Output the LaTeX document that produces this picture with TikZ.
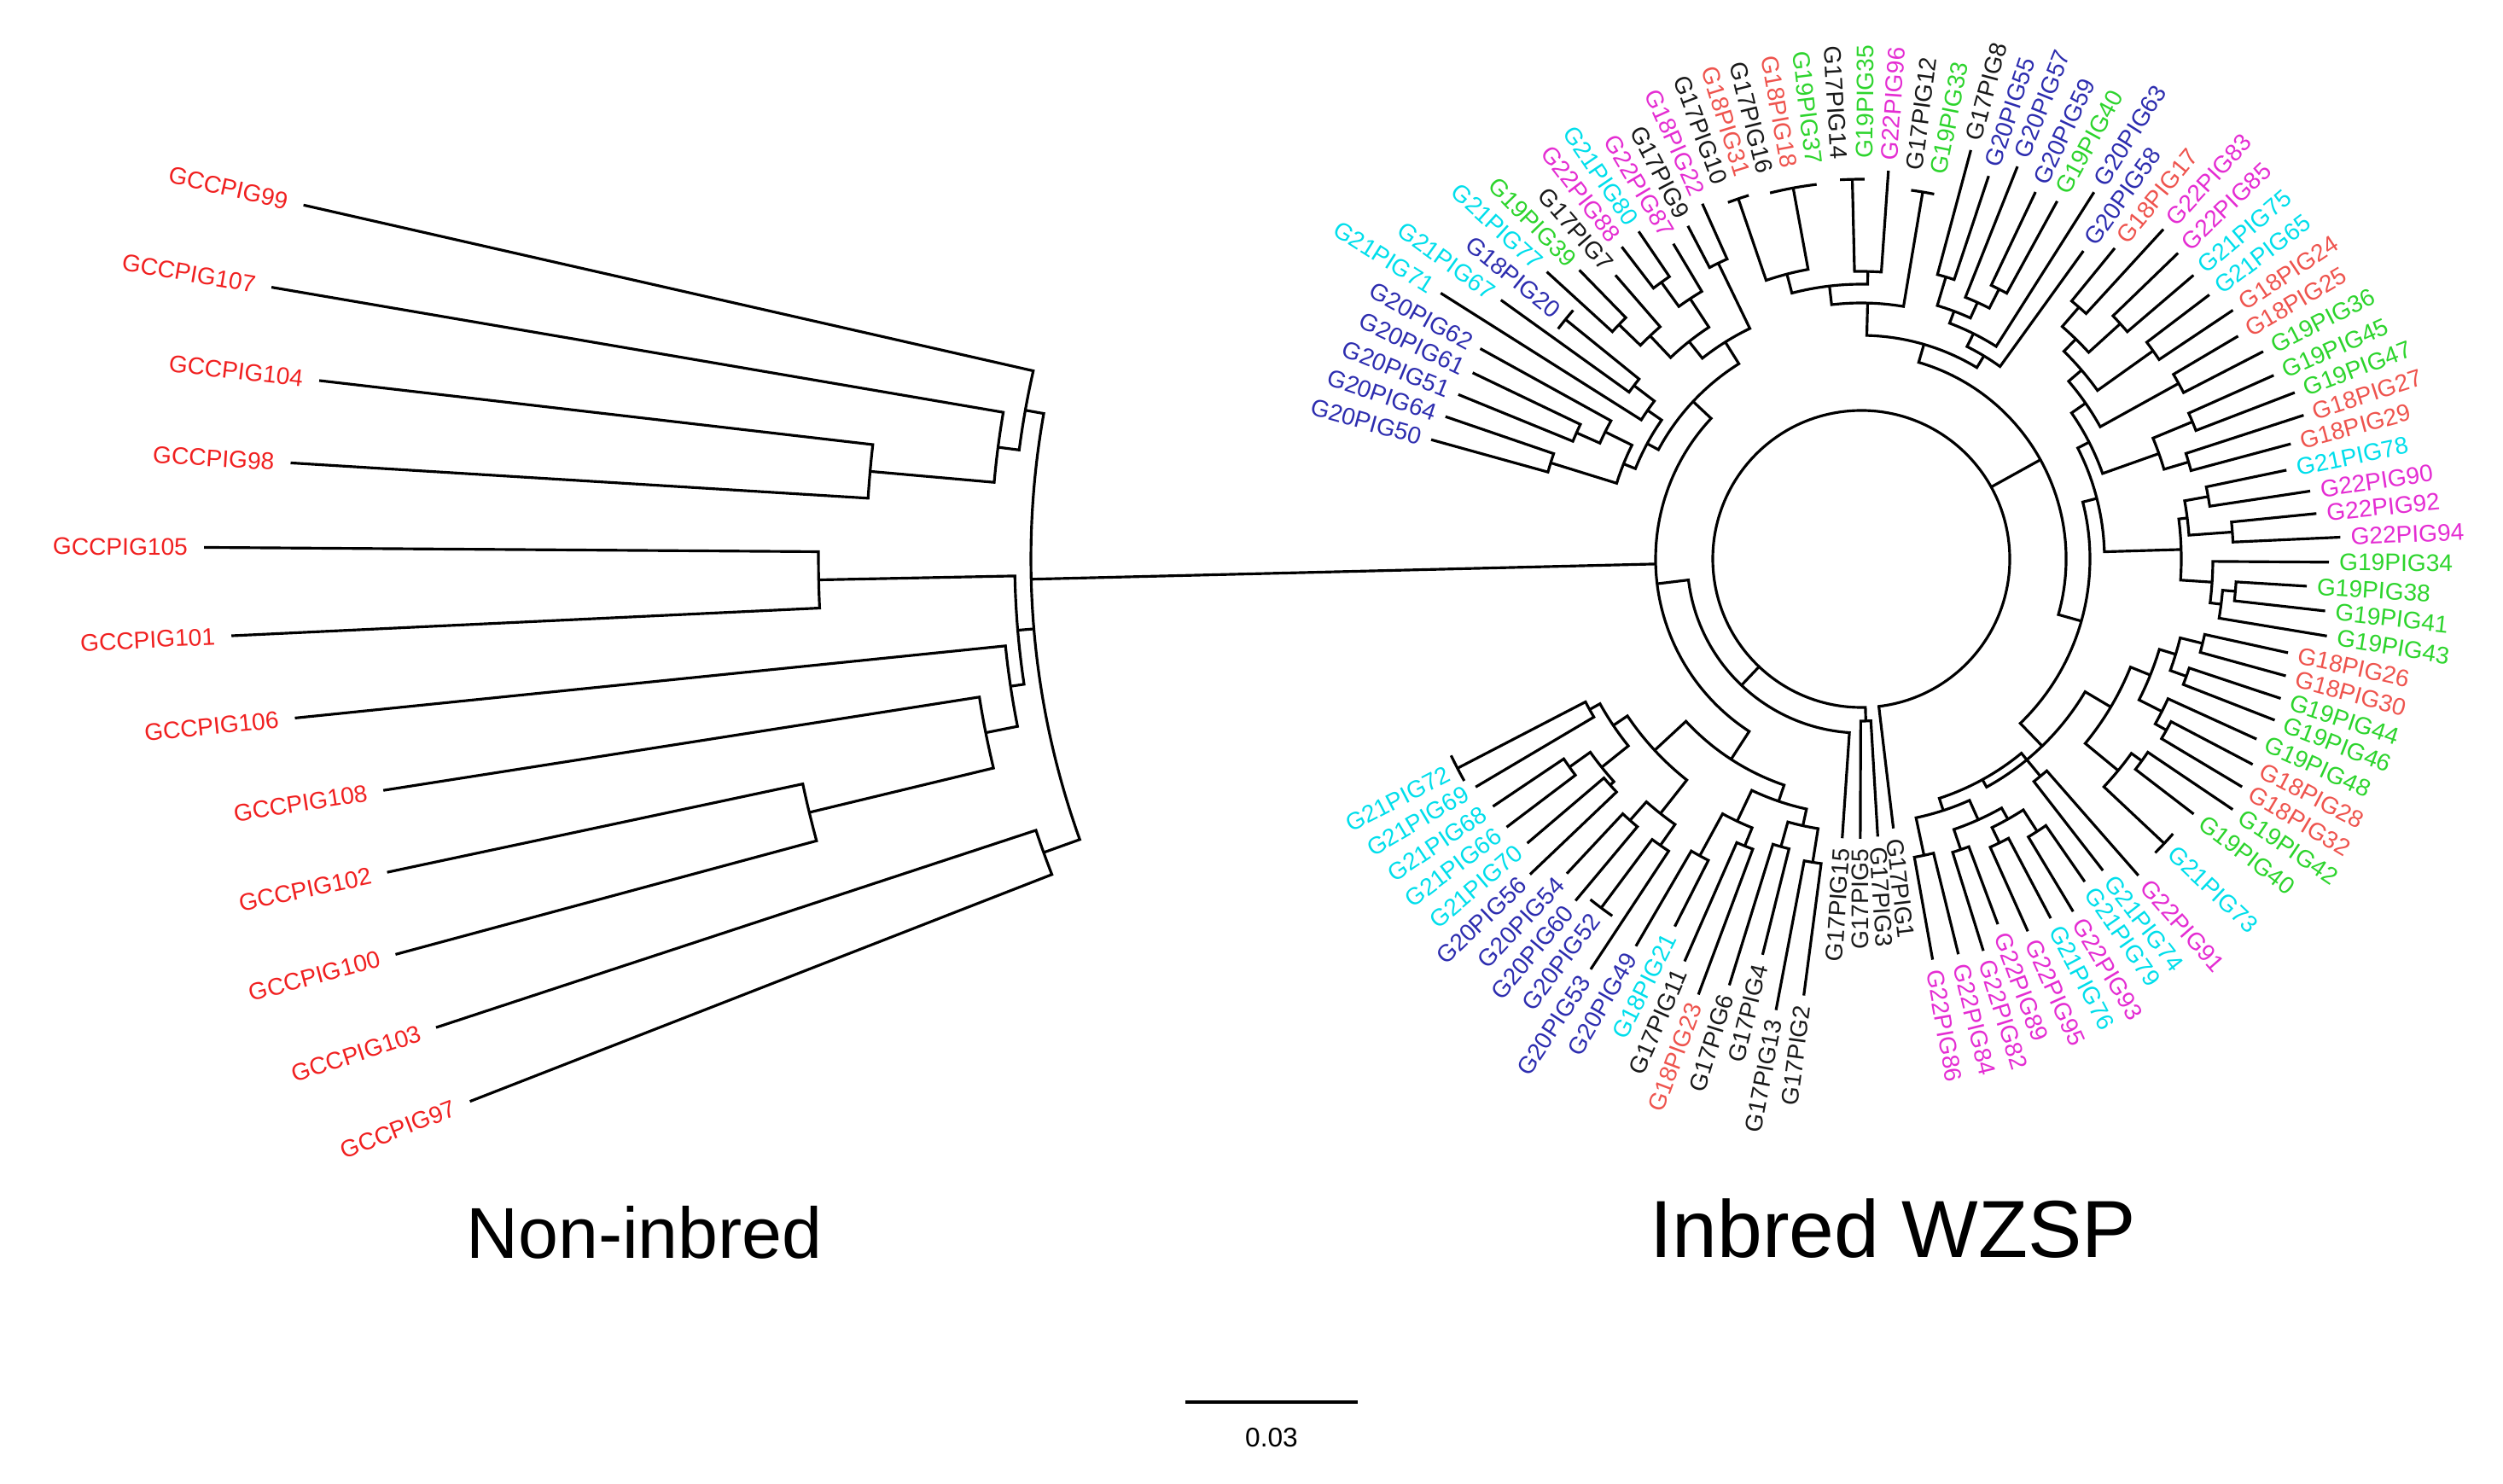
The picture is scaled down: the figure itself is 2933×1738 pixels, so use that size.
\documentclass[tikz,border=0pt]{standalone}
\usepackage{fontspec}
\setmainfont{Liberation Sans}
\definecolor{cLR}{RGB}{240,32,32}
\definecolor{cR}{RGB}{238,84,78}
\definecolor{cG}{RGB}{45,212,45}
\definecolor{cC}{RGB}{0,222,235}
\definecolor{cB}{RGB}{45,45,175}
\definecolor{cM}{RGB}{228,45,210}
\definecolor{cK}{RGB}{25,25,25}
\def\labgap{8}
% leaf: [extra gap]{id}{angle}{tip radius}{colour}{text}
\newcommand\Lf[6][0]{%
  \expandafter\xdef\csname tA@#2\endcsname{#3}%
  \expandafter\xdef\csname tR@#2\endcsname{#4}%
  \pgfmathsetmacro\zzR{#4+\labgap+#1}%
  \pgfmathtruncatemacro\zzS{cos(#3)>0 ? 1 : 0}%
  \ifnum\zzS=1
    \node[lab,text=#5,rotate=#3,anchor=west] (n#2) at (#3:\zzR) {#6};%
  \else
    \pgfmathsetmacro\zzRot{#3-180}%
    \node[lab,text=#5,rotate=\zzRot,anchor=east] (n#2) at (#3:\zzR) {#6};%
  \fi
}
% internal node: {id}{radius}{first child}{last child}
\newcommand\Nd[4]{%
  \edef\zzA{\csname tA@#3\endcsname}%
  \edef\zzB{\csname tA@#4\endcsname}%
  \edef\zzrA{\csname tR@#3\endcsname}%
  \edef\zzrB{\csname tR@#4\endcsname}%
  \pgfmathsetmacro\zzM{(\zzA+\zzB)/2}%
  \expandafter\xdef\csname tA@#1\endcsname{\zzM}%
  \expandafter\xdef\csname tR@#1\endcsname{#2}%
  \draw[br] (\zzA:\zzrA) -- (\zzA:#2) arc[start angle=\zzA, end angle=\zzB, radius=#2] -- (\zzB:\zzrB);%
}
\newcommand\Stem[3]{%
  \edef\zzA{\csname tA@#1\endcsname}%
  \draw[br] (\zzA:#2) -- (\zzA:#3);%
}
\newcommand\Tbar[1]{%
  \edef\zzA{\csname tA@#1\endcsname}%
  \edef\zzr{\csname tR@#1\endcsname}%
  \pgfmathsetmacro\zzs{\zzA+1.8}%
  \pgfmathsetmacro\zze{\zzA-1.8}%
  \draw[br] (\zzs:\zzr) arc[start angle=\zzs, end angle=\zze, radius=\zzr];%
}
\begin{document}
\begin{tikzpicture}[x=0.01cm,y=0.01cm,
  br/.style={line width=0.9pt},
  lab/.style={font=\fontsize{8}{9}\selectfont,inner sep=1pt}]
\path[use as bounding box] (0,0) rectangle (2933,1738);
\begin{scope}[shift={(2181,1083)}]
% ---------------- right tree leaves ----------------
\Lf{1}{164.5}{523}{cB}{G20PIG50}
\Lf{2}{161.1}{515}{cB}{G20PIG64}
\Lf{3}{157.8}{510}{cB}{G20PIG51}
\Lf{4}{154.4}{505}{cB}{G20PIG61}
\Lf{5}{151.1}{510}{cB}{G20PIG62}
\Lf{6}{147.7}{583}{cC}{G21PIG71}
\Lf{7}{144.3}{520}{cC}{G21PIG67}
\Lf{8}{141.0}{446}{cB}{G18PIG20}
\Lf{9}{137.6}{499}{cC}{G21PIG77}
\Lf{10}{134.3}{473}{cG}{G19PIG39}
\Lf{11}{130.9}{440}{cK}{G17PIG7}
\Lf{12}{127.5}{461}{cM}{G22PIG88}
\Lf{13}{124.2}{464}{cC}{G21PIG80}
\Lf{14}{120.8}{430}{cM}{G22PIG87}
\Lf{15}{117.5}{440}{cK}{G17PIG9}
\Lf{16}{114.1}{456}{cM}{G18PIG22}
\Lf[12]{17}{110.5}{446}{cK}{G17PIG10}
\Lf[12]{18}{107.2}{446}{cR}{G18PIG31}
\Lf[12]{19}{104.0}{442}{cK}{G17PIG16}
\Lf[12]{20}{100.4}{442}{cR}{G18PIG18}
\Lf[12]{21}{96.8}{442}{cG}{G19PIG37}
\Lf[12]{22}{93.2}{445}{cK}{G17PIG14}
\Lf[12]{23}{89.5}{445}{cG}{G19PIG35}
\Lf{24}{86.0}{456}{cM}{G22PIG96}
\Lf[12]{25}{82.3}{436}{cK}{G17PIG12}
\Lf[12]{26}{78.7}{436}{cG}{G19PIG33}
\Lf{27}{75.0}{496}{cK}{G17PIG8}
\Lf{28}{71.6}{473}{cB}{G20PIG55}
\Lf{29}{68.3}{495}{cB}{G20PIG57}
\Lf{30}{64.6}{476}{cB}{G20PIG59}
\Lf{31}{61.3}{478}{cG}{G19PIG40}
\Lf{32}{57.6}{509}{cB}{G20PIG63}
\Lf{33}{54.2}{445}{cB}{G20PIG58}
\Lf{34}{50.8}{470}{cR}{G18PIG17}
\Lf{35}{47.5}{524}{cM}{G22PIG83}
\Lf{36}{44.0}{516}{cM}{G22PIG85}
\Lf{37}{40.5}{512}{cC}{G21PIG75}
\Lf{38}{37.2}{512}{cC}{G21PIG65}
\Lf{39}{33.8}{524}{cR}{G18PIG24}
\Lf{40}{30.6}{513}{cR}{G18PIG25}
\Lf{41}{27.3}{530}{cG}{G19PIG36}
\Lf{42}{24.0}{529}{cG}{G19PIG45}
\Lf{43}{21.0}{544}{cG}{G19PIG47}
\Lf{44}{18.0}{545}{cR}{G18PIG27}
\Lf{45}{15.0}{521}{cR}{G18PIG29}
\Lf{46}{11.8}{509}{cC}{G21PIG78}
\Lf{47}{8.6}{532}{cM}{G22PIG90}
\Lf{48}{5.7}{536}{cM}{G22PIG92}
\Lf{49}{2.6}{562}{cM}{G22PIG94}
\Lf{50}{-0.4}{548}{cG}{G19PIG34}
\Lf{51}{-3.5}{523}{cG}{G19PIG38}
\Lf{52}{-6.4}{547}{cG}{G19PIG41}
\Lf{53}{-9.4}{553}{cG}{G19PIG43}
\Lf{54}{-12.4}{512}{cR}{G18PIG26}
\Lf{55}{-15.4}{516}{cR}{G18PIG30}
\Lf{56}{-18.4}{518}{cG}{G19PIG44}
\Lf{57}{-21.3}{520}{cG}{G19PIG46}
\Lf{58}{-24.5}{509}{cG}{G19PIG48}
\Lf{59}{-27.7}{518}{cR}{G18PIG28}
\Lf{60}{-30.9}{520}{cR}{G18PIG32}
\Lf{61}{-34.0}{525}{cG}{G19PIG42}
\Lf{62}{-37.5}{491}{cG}{G19PIG40}
\Lf{63}{-43.2}{487}{cC}{G21PIG73}
\Lf{64}{-48.8}{493}{cM}{G22PIG91}
\Lf{65}{-52.2}{462}{cC}{G21PIG74}
\Lf{66}{-55.3}{460}{cC}{G21PIG79}
\Lf{67}{-59.0}{482}{cM}{G22PIG93}
\Lf{68}{-62.2}{476}{cC}{G21PIG76}
\Lf{69}{-65.9}{478}{cM}{G22PIG95}
\Lf{70}{-69.5}{457}{cM}{G22PIG89}
\Lf{71}{-72.7}{481}{cM}{G22PIG82}
\Lf{72}{-76.2}{477}{cM}{G22PIG84}
\Lf{73}{-79.9}{477}{cM}{G22PIG86}
\Lf{74}{-83.2}{318}{cK}{G17PIG1}
\Lf{75}{-86.6}{326}{cK}{G17PIG3}
\Lf{76}{-90.2}{328}{cK}{G17PIG5}
\Lf{77}{266.1}{328}{cK}{G17PIG15}
\Lf{78}{262.5}{516}{cK}{G17PIG2}
\Lf{79}{259.3}{538}{cK}{G17PIG13}
\Lf{80}{256.0}{478}{cK}{G17PIG4}
\Lf{81}{252.8}{523}{cK}{G17PIG6}
\Lf{82}{249.5}{545}{cR}{G18PIG23}
\Lf{83}{246.3}{515}{cK}{G17PIG11}
\Lf{84}{243.1}{483}{cC}{G18PIG21}
\Lf{85}{239.8}{525}{cB}{G20PIG49}
\Lf{86}{236.6}{576}{cB}{G20PIG53}
\Lf{87}{233.3}{510}{cB}{G20PIG52}
\Lf{88}{230.1}{522}{cB}{G20PIG60}
\Lf{89}{226.9}{505}{cB}{G20PIG54}
\Lf{90}{223.6}{536}{cB}{G20PIG56}
\Lf{91}{220.4}{514}{cC}{G21PIG70}
\Lf{92}{217.1}{521}{cC}{G21PIG66}
\Lf{93}{213.9}{520}{cC}{G21PIG68}
\Lf{94}{210.6}{525}{cC}{G21PIG69}
\Lf{95}{207.4}{533}{cC}{G21PIG72}
\Tbar{8}\Tbar{63}\Tbar{87}\Tbar{95}
% ---------------- top-left clade ----------------
\Nd{t1}{381}{1}{2}
\Nd{t2}{365}{3}{4}
\Nd{t3}{335}{t2}{5}
\Nd{t4}{300}{t1}{t3}
\Nd{t5}{335}{7}{8}
\Nd{t6}{305}{6}{t5}
\Nd{t7}{285}{t4}{t6}
\Nd{t8}{395}{9}{10}
\Nd{t9}{360}{t8}{11}
\Nd{t10}{400}{12}{13}
\Nd{t11}{365}{t10}{14}
\Nd{t12}{325}{t9}{t11}
\Nd{t13}{385}{15}{16}
\Nd{t14}{300}{t12}{t13}
\Nd{TL}{270}{t7}{t14}
% ---------------- top clade ----------------
\Nd{u1}{446}{17}{18}
\Nd{u2}{442}{19}{21}
\Nd{u3}{445}{22}{23}
\Nd{u4}{436}{25}{26}
\Nd{v1}{345}{u1}{u2}
\Nd{v2}{337}{u3}{24}
\Nd{v3}{322}{v1}{v2}
\Nd{v4}{300}{v3}{u4}
% ---------------- top-right clade ----------------
\Nd{w1}{345}{27}{28}
\Nd{w2}{355}{30}{31}
\Nd{w3}{330}{29}{w2}
\Nd{w4}{310}{w1}{w3}
\Nd{w5}{295}{w4}{32}
\Nd{w6}{278}{w5}{33}
% ---------------- right clades ----------------
\Nd{x1}{390}{34}{35}
\Nd{x2}{410}{36}{37}
\Nd{x3}{360}{x1}{x2}
\Nd{x4}{420}{38}{39}
\Nd{x5}{340}{x3}{x4}
\Nd{x6}{425}{40}{41}
\Nd{x7}{320}{x5}{x6}
\Nd{x8}{420}{42}{43}
\Nd{x9}{400}{44}{45}
\Nd{x10}{370}{x8}{x9}
\Nd{R1}{300}{x7}{x10}
\Nd{y1}{413}{46}{47}
\Nd{y2}{436}{48}{49}
\Nd{y3}{385}{y1}{y2}
\Nd{y4}{440}{51}{52}
\Nd{y5}{425}{y4}{53}
\Nd{y6}{412}{50}{y5}
\Nd{R2}{375}{y3}{y6}
\Nd{z1}{412}{54}{55}
\Nd{z2}{405}{56}{57}
\Nd{z3}{385}{z1}{z2}
\Nd{z4a}{410}{59}{60}
\Nd{z4}{395}{58}{z4a}
\Nd{z5}{365}{z3}{z4}
\Nd{z6}{405}{61}{62}
\Nd{z7}{390}{z6}{63}
\Nd{R3}{340}{z5}{z7}
\Nd{b1}{330}{64}{65}
\Nd{b2}{380}{66}{67}
\Nd{b3}{370}{68}{69}
\Nd{b4}{350}{b2}{b3}
\Nd{b5}{360}{70}{71}
\Nd{b6}{335}{b4}{b5}
\Nd{b7}{355}{72}{73}
\Nd{b8}{310}{b6}{b7}
\Nd{BR}{295}{b1}{b8}
\Nd{Y1}{262}{v4}{w6}
\Nd{Y2}{285}{R1}{R2}
\Nd{Y3}{305}{R3}{BR}
\Nd{Y4}{268}{Y2}{Y3}
\Nd{Y}{240}{Y1}{Y4}
% ---------------- bottom-left clade ----------------
\Nd{c1}{360}{78}{79}
\Nd{c2}{350}{80}{81}
\Nd{c3}{320}{c1}{c2}
\Nd{c4}{363}{82}{83}
\Nd{c5}{396}{84}{85}
\Nd{c6}{340}{c4}{c5}
\Nd{c7}{300}{c3}{c6}
\Nd{c8}{410}{86}{87}
\Nd{c9}{409}{88}{89}
\Nd{c10}{380}{c8}{c9}
\Nd{c11}{396}{90}{91}
\Nd{c12}{420}{92}{93}
\Nd{c13}{390}{c11}{c12}
\Nd{c14}{364}{94}{95}
\Nd{c15}{350}{c13}{c14}
\Nd{c16}{330}{c10}{c15}
\Nd{BL}{280}{c7}{c16}
\Nd{W}{241}{TL}{BL}
\Nd{X}{204}{W}{77}
\Nd{P}{190}{75}{76}
% ---------------- root ----------------
\Stem{X}{174}{204}
\Stem{Y}{174}{240}
\pgfmathsetmacro\zzE{\csname tA@P\endcsname+360}
\draw[br] (-83.2:318) -- (-83.2:174) arc[start angle=-83.2, end angle=\zzE, radius=174] -- (\zzE:190);
% ---------------- left (non-inbred) tree ----------------
\def\labgap{15}
\Lf{L1}{167.2}{1872}{cLR}{GCCPIG99}
\Lf{L2}{170.3}{1890}{cLR}{GCCPIG107}
\Lf{L3}{173.4}{1819}{cLR}{GCCPIG104}
\Lf{L4}{176.5}{1844}{cLR}{GCCPIG98}
\Lf{L5}{179.6}{1942}{cLR}{GCCPIG105}
\Lf{L6}{182.7}{1912}{cLR}{GCCPIG101}
\Lf{L7}{185.8}{1845}{cLR}{GCCPIG106}
\Lf{L8}{188.9}{1753}{cLR}{GCCPIG108}
\Lf{L9}{192.0}{1766}{cLR}{GCCPIG102}
\Lf{L10}{195.1}{1779}{cLR}{GCCPIG100}
\Lf{L11}{198.2}{1758}{cLR}{GCCPIG103}
\Lf{L12}{201.3}{1750}{cLR}{GCCPIG97}
\Nd{LA}{1166}{L3}{L4}
\Nd{LB}{1020}{L2}{LA}
\Nd{LC}{995}{L1}{LB}
\Nd{LD}{1222}{L5}{L6}
\Nd{LE}{1268}{L9}{L10}
\Nd{LF}{1046}{L8}{LE}
\Nd{LG}{1008}{L7}{LF}
\Nd{LH}{992}{LD}{LG}
\Nd{LI}{1018}{L11}{L12}
\Nd{LR}{973}{LC}{LI}
\Stem{LH}{973}{992}
\draw[br] (181.4:241) -- (181.4:973);
\end{scope}
\node[font=\fontsize{24}{28}\selectfont] (tNI) at (755,294) {Non-inbred};
\node[font=\fontsize{27}{32}\selectfont] (tIW) at (2218,298) {Inbred WZSP};
\coordinate (sbA) at (1389,95);
\coordinate (sbB) at (1591,95);
\draw[line width=1pt] (sbA) -- (sbB);
\node[font=\fontsize{9}{11}\selectfont] (sbl) at (1490,53) {0.03};
\end{tikzpicture}
\end{document}
